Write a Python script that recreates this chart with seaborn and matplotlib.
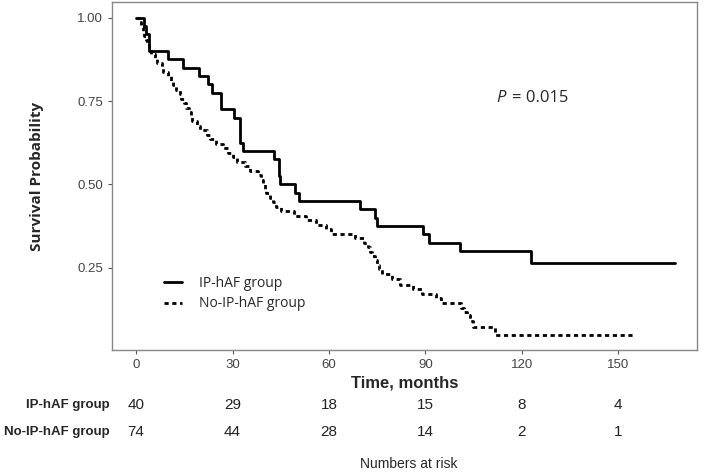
import numpy as np
import pandas as pd
import matplotlib.pyplot as plt
import matplotlib.transforms as mtransforms
import seaborn as sns

# Kaplan-Meier steps
ip_time = [0, 2.3, 3.1, 4.0, 9.8, 14.7, 19.7, 22.5, 23.5, 26.3, 30.4, 32.3, 33.1,
           42.9, 44.4, 44.9, 49.5, 50.6, 69.8, 74.2, 75.0, 89.2, 91.2, 100.9,
           123.0, 167.6]
ip_surv = [1.0, 0.975, 0.95, 0.90, 0.875, 0.85, 0.825, 0.80, 0.775, 0.725, 0.70,
           0.625, 0.60, 0.575, 0.525, 0.50, 0.475, 0.45, 0.425, 0.40, 0.375,
           0.35, 0.325, 0.30, 0.2625, 0.2625]

no_time = [0, 1.0, 1.5, 2.0, 2.5, 3.0, 3.5, 4.0, 4.5, 6.0, 6.5, 8.0, 8.5, 10.0,
           11.0, 11.5, 12.5, 13.5, 14.0, 15.0, 15.5, 16.5, 17.0, 17.5, 19.0,
           20.0, 22.0, 23.0, 25.0, 27.0, 28.5, 30.0, 31.5, 34.0, 35.5, 38.0,
           39.0, 39.5, 40.0, 40.5, 41.5, 42.5, 43.5, 45.0, 49.0, 53.0, 56.0,
           59.0, 60.5, 68.0, 71.0, 72.0, 72.8, 73.5, 74.2, 75.0, 75.5, 76.5,
           79.5, 82.0, 86.0, 89.0, 93.2, 94.7, 101.0, 102.0, 102.9, 104.0,
           104.8, 111.5, 155.0]
no_surv = [1.0, 0.986, 0.973, 0.959, 0.946, 0.932, 0.919, 0.905, 0.892, 0.878,
           0.865, 0.851, 0.838, 0.824, 0.811, 0.797, 0.784, 0.770, 0.757, 0.743,
           0.730, 0.716, 0.703, 0.689, 0.676, 0.662, 0.649, 0.635, 0.622, 0.608,
           0.595, 0.581, 0.568, 0.554, 0.541, 0.527, 0.514, 0.500, 0.486, 0.473,
           0.459, 0.446, 0.432, 0.419, 0.405, 0.392, 0.378, 0.365, 0.351, 0.338,
           0.324, 0.311, 0.298, 0.285, 0.272, 0.258, 0.245, 0.231, 0.215, 0.199,
           0.185, 0.172, 0.158, 0.145, 0.128, 0.118, 0.108, 0.090, 0.073, 0.048,
           0.048]

groups = ['IP-hAF group', 'No-IP-hAF group']
risk_times = [0, 30, 60, 90, 120, 150]
risk_ip = [40, 29, 18, 15, 8, 4]
risk_no = [74, 44, 28, 14, 2, 1]

df = pd.concat([
    pd.DataFrame({'time': ip_time, 'surv': ip_surv, 'group': groups[0]}),
    pd.DataFrame({'time': no_time, 'surv': no_surv, 'group': groups[1]}),
])

sns.set_style('white')
plt.rcParams['font.family'] = ['Liberation Sans', 'DejaVu Sans']
ui = ['Open Sans', 'DejaVu Sans']

fig = plt.figure(figsize=(7.07, 4.74), dpi=100)
ax = fig.add_axes([112 / 707, 1 - 350 / 474, 585 / 707, 348 / 474])

sns.lineplot(data=df, x='time', y='surv', hue='group', style='group',
             palette=['black', 'black'],
             dashes={groups[0]: '', groups[1]: (1.5, 1.3)},
             drawstyle='steps-post', lw=2, estimator=None, ax=ax)

ax.set_xlim(-7.5, 174.5)
ax.set_ylim(0.0025, 1.0475)
ax.set_xticks(risk_times)
ax.set_yticks([0.25, 0.50, 0.75, 1.00])
ax.set_yticklabels(['0.25', '0.50', '0.75', '1.00'])
ax.tick_params(axis='both', length=3, width=0.8, color='#555555',
               labelsize=9.5, labelcolor='#444444', bottom=True, left=True)
for s in ax.spines.values():
    s.set_color('#888888')
    s.set_linewidth(1)

ax.set_xlabel('Time, months', fontsize=12, fontweight='bold', labelpad=3)
ax.set_ylabel('Survival Probability', fontsize=11, fontweight='bold',
              family=ui, labelpad=24)

ax.text(112, 0.76, 'P', fontsize=12, style='italic', family=ui, va='center')
ax.text(117, 0.76, '= 0.015', fontsize=12, family=ui, va='center')

ax.legend(loc='lower left', bbox_to_anchor=(0.068, 0.075), frameon=False,
          handlelength=1.3, handletextpad=1.2, labelspacing=0.4,
          prop={'family': ui, 'size': 10})

# numbers at risk table
trans = mtransforms.blended_transform_factory(ax.transData, fig.transFigure)
for yfig, label, vals in [(1 - 405 / 474, groups[0], risk_ip),
                          (1 - 432 / 474, groups[1], risk_no)]:
    fig.text(110 / 707, yfig, label, ha='right', va='center', fontsize=9.5,
             fontweight='bold')
    for t, v in zip(risk_times, vals):
        ax.text(t, yfig, str(v), transform=trans, ha='center', va='center',
                fontsize=11, color='#222222')

fig.text(409 / 707, 1 - 464 / 474, 'Numbers at risk', ha='center',
         va='center', fontsize=10)

fig.savefig('out.png', dpi=100)
